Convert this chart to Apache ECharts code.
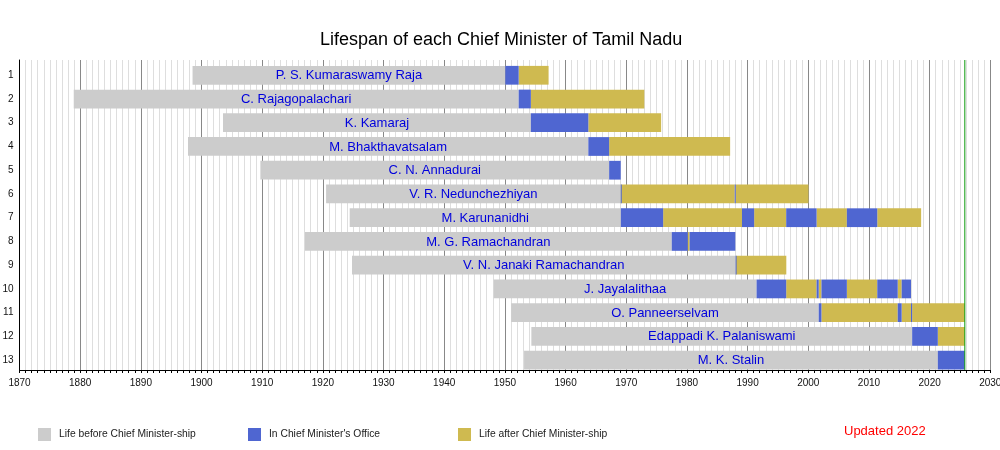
<!DOCTYPE html>
<html>
<head>
<meta charset="utf-8">
<title>Lifespan of each Chief Minister of Tamil Nadu</title>
<script src="https://cdn.jsdelivr.net/npm/echarts@6/dist/echarts.min.js"></script>
<style>
  html, body { margin: 0; padding: 0; background: #fff; }
  #chart { width: 1000px; height: 450px; }
</style>
</head>
<body>
<div id="chart"></div>
<script>
// chief ministers, in order of first term
const names = [
  'P. S. Kumaraswamy Raja',
  'C. Rajagopalachari',
  'K. Kamaraj',
  'M. Bhakthavatsalam',
  'C. N. Annadurai',
  'V. R. Nedunchezhiyan',
  'M. Karunanidhi',
  'M. G. Ramachandran',
  'V. N. Janaki Ramachandran',
  'J. Jayalalithaa',
  'O. Panneerselvam',
  'Edappadi K. Palaniswami',
  'M. K. Stalin'
]
const rowLabels = names.map((n, i) => String(i + 1))

// years as decimals
const born = [1898.52, 1878.94, 1903.54, 1897.77, 1909.70, 1920.53, 1924.42,
  1917.05, 1924.80, 1948.15, 1951.04, 1954.36, 1953.16]
const died = [1957.20, 1972.98, 1975.75, 1987.12, 1969.09, 2000.03, 2018.60,
  1987.98, 1996.38, 2016.93, null, null, null]
const terms = [
  [[1950.07, 1952.27]],
  [[1952.27, 1954.28]],
  [[1954.28, 1963.75]],
  [[1963.75, 1967.18]],
  [[1967.18, 1969.09]],
  [[1969.09, 1969.11], [1987.88, 1988.02]],
  [[1969.11, 1976.08], [1989.07, 1991.08], [1996.36, 2001.37], [2006.36, 2011.37]],
  [[1977.50, 1980.13], [1980.44, 1987.98]],
  [[1988.02, 1988.08]],
  [[1991.48, 1996.36], [2001.37, 2001.72], [2002.17, 2006.36], [2011.37, 2014.74], [2015.39, 2016.93]],
  [[2001.72, 2002.17], [2014.74, 2015.39], [2016.93, 2017.12]],
  [[2017.12, 2021.35]],
  [[2021.35, 2025.80]]
]
const nowYear = 2025.8

const xTicks = { min: 1870, max: 2030, step: 10 }
const legendNames = ['Life before Chief Minister-ship', "In Chief Minister's Office", 'Life after Chief Minister-ship']

const FONT = '"Liberation Sans", Arial, sans-serif'
const GRAY = '#cccccc'
const BLUE = '#4f66d1'
const GOLD = '#cfba50'

// split every life into before / in office / after segments
var beforeData = []
var officeData = []
var afterData = []
names.forEach((name, i) => {
  var t = terms[i]
  var end = died[i] == null ? nowYear : died[i]
  beforeData.push([born[i], t[0][0], i])
  t.forEach((term, k) => {
    officeData.push([term[0], term[1], i])
    var next = k + 1 < t.length ? t[k + 1][0] : end
    if (next - term[1] > 0.005)
      afterData.push([term[1], next, i])
  })
})

function segment(params, api) {
  var row = api.value(2)
  var p0 = api.coord([api.value(0), row])
  var p1 = api.coord([api.value(1), row])
  var h = api.size([0, 1])[1] * 0.79
  var w = Math.max(1, p1[0] - p0[0])
  var rect = {
    type: 'rect',
    shape: { x: p0[0], y: p0[1] - h / 2, width: w, height: h },
    style: { fill: api.visual('color') }
  }
  if (params.seriesIndex !== 0)
    return rect

  return {
    type: 'group',
    children: [rect, {
      type: 'text',
      z2: 10,
      style: {
        text: names[row],
        x: p0[0] + w / 2,
        y: p0[1] + 0.5,
        align: 'center',
        verticalAlign: 'middle',
        fill: '#0000dd',
        font: '13px ' + FONT
      }
    }]
  }
}

function barSeries(name, color, data) {
  return {
    type: 'custom',
    name: name,
    xAxisIndex: 1,
    yAxisIndex: 1,
    renderItem: segment,
    itemStyle: { color: color },
    encode: { x: [0, 1], y: 2 },
    data: data
  }
}

function legendItem(name, left) {
  return {
    data: [name],
    left: left,
    top: 428,
    padding: 0,
    icon: 'rect',
    itemWidth: 13,
    itemHeight: 13,
    selectedMode: false,
    textStyle: { fontSize: 10.3, color: '#222', fontFamily: FONT, padding: [0, 0, 0, 3] }
  }
}

var chart = echarts.init(document.getElementById('chart'))

chart.setOption({
  animation: false,
  backgroundColor: '#fff',
  textStyle: { fontFamily: FONT },
  title: [{
    text: 'Lifespan of each Chief Minister of Tamil Nadu',
    left: 320,
    top: 31,
    padding: 0,
    textStyle: { fontSize: 18, fontWeight: 'normal', color: '#000', fontFamily: FONT }
  }, {
    text: 'Updated 2022',
    left: 844,
    top: 425,
    padding: 0,
    textStyle: { fontSize: 13, fontWeight: 'normal', color: '#ff0000', fontFamily: FONT }
  }],
  legend: [
    legendItem(legendNames[0], 38),
    legendItem(legendNames[1], 248),
    legendItem(legendNames[2], 458)
  ],
  grid: [
    { left: 19.5, right: 9.7, top: 60, height: 310, outerBoundsMode: 'none' },
    { left: 19.5, right: 9.7, top: 63.4, height: 308.6, outerBoundsMode: 'none' }
  ],
  xAxis: [{
    type: 'value',
    gridIndex: 0,
    min: xTicks.min,
    max: xTicks.max,
    interval: xTicks.step,
    axisLine: { show: true, lineStyle: { color: '#000' } },
    axisTick: { show: true, length: 3, lineStyle: { color: '#000' } },
    minorTick: { show: true, splitNumber: 10, length: 3, lineStyle: { color: '#000' } },
    axisLabel: { fontSize: 10, color: '#111', margin: 8, fontFamily: FONT, formatter: v => String(v) },
    splitLine: { show: true, lineStyle: { color: '#888' } },
    minorSplitLine: { show: true, lineStyle: { color: '#dedede' } }
  }, {
    type: 'value',
    gridIndex: 1,
    min: xTicks.min,
    max: xTicks.max,
    show: false
  }],
  yAxis: [{
    type: 'value',
    gridIndex: 0,
    min: 0,
    max: 1,
    axisLine: { show: true, lineStyle: { color: '#000' } },
    axisTick: { show: false },
    axisLabel: { show: false },
    splitLine: { show: false }
  }, {
    type: 'category',
    gridIndex: 1,
    inverse: true,
    data: rowLabels,
    axisLine: { show: false },
    axisTick: { show: false },
    splitLine: { show: false },
    axisLabel: { fontSize: 10, color: '#111', margin: 6, padding: [0, 0, 6, 0], fontFamily: FONT }
  }],
  series: [
    barSeries(legendNames[0], GRAY, beforeData),
    barSeries(legendNames[2], GOLD, afterData),
    barSeries(legendNames[1], BLUE, officeData),
    {
      type: 'line',
      xAxisIndex: 0,
      yAxisIndex: 0,
      symbol: 'none',
      silent: true,
      lineStyle: { color: '#0a9a0a', width: 1 },
      data: [[nowYear, 0], [nowYear, 1]]
    }
  ]
})
</script>
</body>
</html>
